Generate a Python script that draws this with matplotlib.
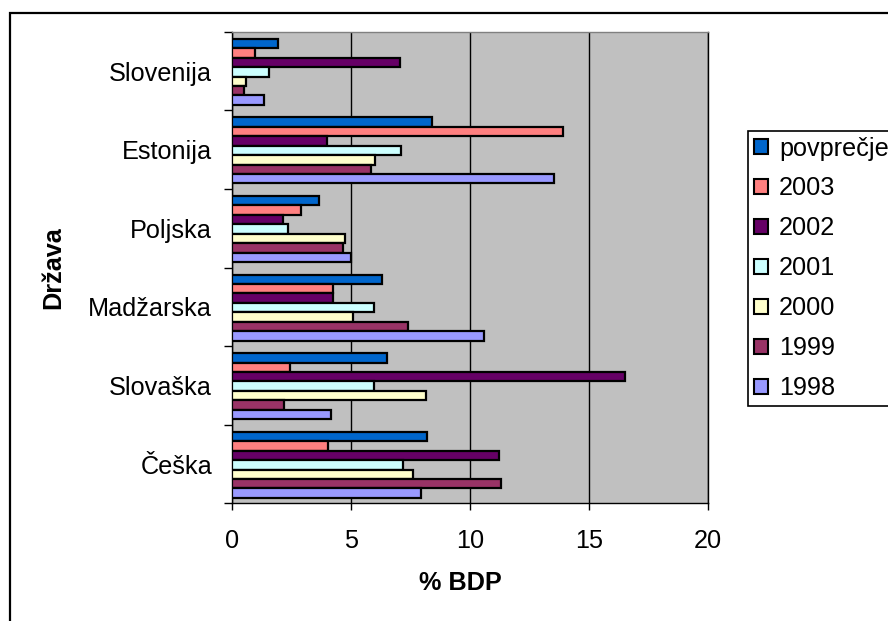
import matplotlib
matplotlib.use("Agg")
import matplotlib.pyplot as plt
from matplotlib.patches import Rectangle, Patch
import numpy as np

plt.rcParams["font.family"] = ["Liberation Sans", "DejaVu Sans"]

# Countries, listed bottom to top
countries = ["Češka", "Slovaška", "Madžarska", "Poljska", "Estonija", "Slovenija"]

# Values in % of GDP per country (same order as countries)
povprecje = [8.2, 6.5, 6.3, 3.65, 8.4, 1.95]
y2003 = [4.05, 2.45, 4.25, 2.9, 13.9, 0.95]
y2002 = [11.2, 16.5, 4.25, 2.15, 4.0, 7.05]
y2001 = [7.2, 5.95, 5.95, 2.35, 7.1, 1.55]
y2000 = [7.6, 8.15, 5.1, 4.75, 6.0, 0.6]
y1999 = [11.3, 2.2, 7.4, 4.65, 5.85, 0.5]
y1998 = [7.95, 4.15, 10.6, 5.0, 13.55, 1.35]

series_labels = ["povprečje", "2003", "2002", "2001", "2000", "1999", "1998"]
series_values = [povprecje, y2003, y2002, y2001, y2000, y1999, y1998]
series_colors = ["#0066CC", "#FF8080", "#660066", "#CCFFFF", "#FFFFCC", "#993366", "#9999FF"]

FS = 18.2
W, H = 888, 621

fig = plt.figure(figsize=(W / 100, H / 100), dpi=100)
fig.patch.set_facecolor("white")

left, right, top, bottom = 232, 708, 31.7, 503.3
ax = fig.add_axes([left / W, 1 - bottom / H, (right - left) / W, (bottom - top) / H])
ax.set_facecolor("#C0C0C0")

bar_h = 0.12
top_gap = 0.09
base = np.arange(len(countries))
for k, (vals, col) in enumerate(zip(series_values, series_colors)):
    ys = base + 1 - top_gap - (k + 0.5) * bar_h
    ax.barh(ys, vals, height=bar_h, color=col, edgecolor="black",
            linewidth=1.6, zorder=3)

ax.set_xlim(0, 20)
ax.set_ylim(0, len(countries))
ax.set_xticks([0, 5, 10, 15, 20])
ax.set_xticklabels(["0", "5", "10", "15", "20"], fontsize=FS)
ax.set_yticks(np.arange(len(countries) + 1))
ax.set_yticklabels([])
ax.set_yticks(base + 0.5, minor=True)
ax.set_yticklabels(countries, minor=True, fontsize=FS)

ax.tick_params(axis="x", which="major", direction="out", length=5.2,
               width=1, pad=13.4, colors="black")
ax.tick_params(axis="y", which="major", direction="out", length=5.8, width=1)
ax.tick_params(axis="y", which="minor", length=0, pad=14.4)

ax.set_axisbelow(True)
ax.xaxis.grid(True, color="black", linewidth=1)
ax.yaxis.grid(False)

for s in ["left", "bottom", "right"]:
    ax.spines[s].set_color("black")
    ax.spines[s].set_linewidth(1)
ax.spines["top"].set_color("#808080")
ax.spines["top"].set_linewidth(1)

ax.set_xlabel("% BDP", fontsize=FS, fontweight="bold", va="center")
ax.xaxis.set_label_coords((460 - left) / (right - left),
                          -(583 - bottom) / (bottom - top))
ax.set_ylabel("Država", fontsize=FS, fontweight="bold", va="center")
ax.yaxis.set_label_coords((53 - left) / (right - left), 0.5)

handles = [Patch(facecolor=c, edgecolor="black", linewidth=1.5) for c in series_colors]
leg = fig.legend(handles, series_labels, loc="upper left",
                 bbox_to_anchor=(748.3 / W, 1 - 131 / H),
                 bbox_transform=fig.transFigure, fontsize=FS,
                 frameon=True, fancybox=False, framealpha=1,
                 edgecolor="black", borderpad=0.22, borderaxespad=0,
                 handlelength=0.55, handleheight=0.55, handletextpad=0.45,
                 labelspacing=0.63)
leg.get_frame().set_linewidth(1.2)

# Chart border
fig.add_artist(Rectangle((10 / W, -0.1), 1.2, (H - 13) / H + 0.1,
                         transform=fig.transFigure, fill=False,
                         edgecolor="black", linewidth=1.6))

fig.savefig("out.png", dpi=100)
